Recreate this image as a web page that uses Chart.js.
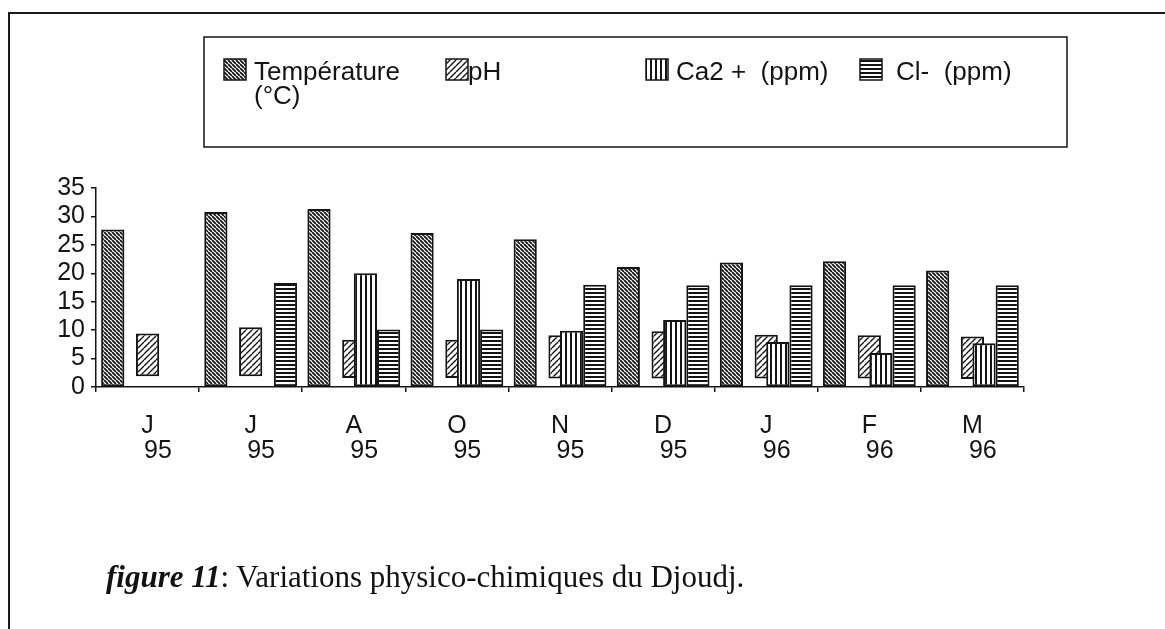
<!DOCTYPE html>
<html>
<head>
<meta charset="utf-8">
<script src="https://cdn.jsdelivr.net/npm/chart.js@4.4.1/dist/chart.umd.min.js"></script>
<style>
  html, body { margin: 0; padding: 0; background: #fff; }
  #wrap { position: relative; width: 1165px; height: 629px; overflow: hidden; }
  #frameTop { position: absolute; left: 8px; top: 12px; width: 1157px; border-top: 2px solid #1a1a1a; }
  #frameLeft { position: absolute; left: 8px; top: 12px; height: 617px; border-left: 2px solid #1a1a1a; }
  #caption { position: absolute; left: 106px; top: 561px; line-height: 31px;
             font-family: "Liberation Serif", "DejaVu Serif", serif; font-size: 31px; color: #111; white-space: nowrap; }
  #caption b { font-style: italic; }
  canvas { position: absolute; left: 0; top: 0; }
</style>
</head>
<body>
<div id="wrap">
  <canvas id="chart" width="1165" height="629"></canvas>
  <div id="frameTop"></div>
  <div id="frameLeft"></div>
  <div id="caption"><b>figure 11</b>: Variations physico-chimiques du Djoudj.</div>
</div>
<script>
// months (first line) and years (second line) of the x labels
const months = ['J', 'J', 'A', 'O', 'N', 'D', 'J', 'F', 'M'];
const years = ['95', '95', '95', '95', '95', '95', '96', '96', '96'];

// values
const temperature = [27.7, 30.8, 31.3, 27.1, 26.0, 21.1, 21.9, 22.1, 20.5];
const phLow = [1.9, 1.9, 1.6, 1.6, 1.5, 1.5, 1.5, 1.5, 1.4];
const phHigh = [9.4, 10.5, 8.3, 8.3, 9.1, 9.8, 9.2, 9.1, 8.9];
const calcium = [null, null, 20.0, 19.0, 9.9, 11.8, 7.9, 6.0, 7.7];
const chloride = [null, 18.3, 10.1, 10.1, 18.0, 17.9, 17.9, 17.9, 17.9];

const yTicks = [0, 5, 10, 15, 20, 25, 30, 35];
const seriesNames = ['Température', 'pH', 'Ca2 +  (ppm)', 'Cl-  (ppm)'];

const labels = months.map((m, i) => [m, '   ' + years[i]]);
const ink = '#141414';

// hatch patterns like the printed figure
function makePattern(size, draw) {
  const c = document.createElement('canvas');
  c.width = size; c.height = size;
  const g = c.getContext('2d');
  g.fillStyle = '#fff';
  g.fillRect(0, 0, size, size);
  g.strokeStyle = ink;
  g.fillStyle = ink;
  draw(g, size);
  return g.createPattern(c, 'repeat');
}
function backDiag(w) {
  return (g, n) => {
    g.lineWidth = w;
    g.beginPath();
    for (let k = -2; k <= 2; k++) { g.moveTo(k * n, 0); g.lineTo(k * n + n, n); }
    g.stroke();
  };
}
function fwdDiag(w) {
  return (g, n) => {
    g.lineWidth = w;
    g.beginPath();
    for (let k = -2; k <= 2; k++) { g.moveTo(k * n, n); g.lineTo(k * n + n, 0); }
    g.stroke();
  };
}
const tempFill = makePattern(4, backDiag(1.8));
const phFill = makePattern(6, fwdDiag(1.4));
const caFill = makePattern(5, (g, n) => g.fillRect(0, 0, 2, n));
const clFill = makePattern(4, (g, n) => g.fillRect(0, 0, n, 2));

const barBase = {
  borderColor: ink,
  borderWidth: 2,
  borderSkipped: false,
  categoryPercentage: 0.9,
  barPercentage: 1.0
};

const datasets = [
  Object.assign({}, barBase, { label: seriesNames[0], data: temperature, backgroundColor: tempFill }),
  Object.assign({}, barBase, {
    label: seriesNames[1],
    data: phLow.map((v, i) => [v, phHigh[i]]),
    backgroundColor: phFill,
    grouped: false,
    order: 1,
    categoryPercentage: 1,
    barPercentage: 0.225
  }),
  // empty slot so that the groups keep the printed spacing
  Object.assign({}, barBase, { label: '', data: months.map(() => null), backgroundColor: 'rgba(0,0,0,0)' }),
  Object.assign({}, barBase, { label: seriesNames[2], data: calcium, backgroundColor: caFill }),
  Object.assign({}, barBase, { label: seriesNames[3], data: chloride, backgroundColor: clFill })
];

// boxed legend drawn above the plot
const boxLegend = {
  id: 'boxLegend',
  afterDraw(chart) {
    const ctx = chart.ctx;
    ctx.save();
    ctx.strokeStyle = ink;
    ctx.lineWidth = 1.5;
    ctx.strokeRect(204, 37, 863, 110);
    ctx.font = '26px "Liberation Sans", Arial, sans-serif';
    ctx.fillStyle = ink;
    ctx.textBaseline = 'alphabetic';
    const items = [
      { ds: 0, icon: 224, text: 254, extra: '(°C)' },
      { ds: 1, icon: 446, text: 468 },
      { ds: 3, icon: 646, text: 676 },
      { ds: 4, icon: 860, text: 896 }
    ];
    items.forEach(it => {
      const d = chart.data.datasets[it.ds];
      ctx.fillStyle = d.backgroundColor;
      ctx.fillRect(it.icon, 59, 22, 21);
      ctx.strokeRect(it.icon, 59, 22, 21);
      ctx.fillStyle = ink;
      ctx.fillText(d.label, it.text, 80);
      if (it.extra) ctx.fillText(it.extra, it.text, 104);
    });
    ctx.restore();
  }
};

const chart = new Chart(document.getElementById('chart'), {
  type: 'bar',
  data: { labels: labels, datasets: datasets },
  plugins: [boxLegend],
  options: {
    responsive: false,
    animation: false,
    layout: { padding: { left: 10, right: 141, top: 188, bottom: 150 } },
    plugins: { legend: { display: false }, tooltip: { enabled: false } },
    scales: {
      x: {
        grid: { drawOnChartArea: false, drawTicks: true, tickLength: 5, color: ink, lineWidth: 1.5 },
        border: { color: ink, width: 1.5 },
        ticks: {
          color: ink,
          padding: 22,
          maxRotation: 0,
          autoSkip: false,
          font: { family: '"Liberation Sans", Arial, sans-serif', size: 25, lineHeight: 1.0 }
        }
      },
      y: {
        min: 0,
        max: 35,
        afterBuildTicks: s => { s.ticks = yTicks.map(v => ({ value: v })); },
        afterFit: s => { s.width = 86; },
        grid: { drawOnChartArea: false, drawTicks: true, tickLength: 5, color: ink, lineWidth: 1.5 },
        border: { color: ink, width: 1.5 },
        ticks: {
          color: ink,
          padding: 6,
          font: { family: '"Liberation Sans", Arial, sans-serif', size: 25, lineHeight: 1.0 }
        }
      }
    }
  }
});

// nudge the layout so the plot area sits where the printed one does
const target = { left: 96, right: 1024, top: 188, bottom: 387 };
const area = chart.chartArea;
const pad = chart.options.layout.padding;
pad.left += target.left - area.left;
pad.right += area.right - target.right;
pad.top += target.top - area.top;
pad.bottom += area.bottom - target.bottom;
chart.update();
</script>
</body>
</html>
